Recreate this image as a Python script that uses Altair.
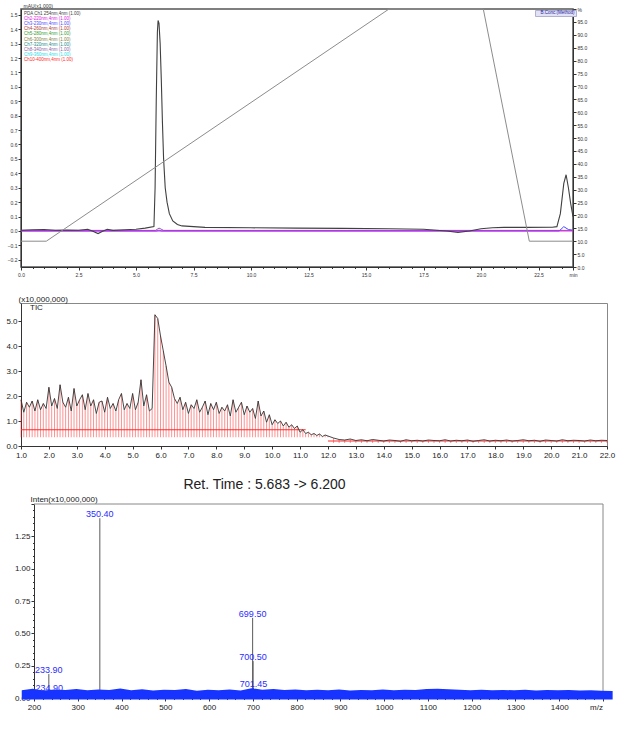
import altair as alt
import pandas as pd

FONT = "Liberation Sans"

# ---------------- Panel 1: PDA chromatogram (mAU x1,000) + gradient (%) ----------------
pda_time = [0.0, 0.5, 1.0, 1.5, 2.0, 2.5, 2.9, 3.1, 3.35, 3.55, 3.75, 4.0, 4.5, 5.0, 5.4,
            5.78, 5.83, 5.88, 5.93, 5.96, 6.0, 6.05, 6.1, 6.15, 6.2, 6.27, 6.35, 6.45, 6.6,
            6.8, 7.0, 8.0, 10.0, 12.0, 14.0, 16.0, 17.5, 18.5, 19.0, 19.5, 20.0, 20.5, 21.0,
            22.0, 23.1, 23.3, 23.45, 23.6, 23.7, 23.8, 23.9, 24.0]
pda_main = [0.005, 0.008, 0.01, 0.005, 0.006, 0.005, 0.012, 0.0, -0.018, -0.002, 0.012,
            0.004, 0.008, 0.012, 0.02, 0.03, 0.3, 0.9, 1.38, 1.46, 1.44, 1.3, 1.05, 0.75,
            0.5, 0.3, 0.2, 0.12, 0.07, 0.045, 0.035, 0.025, 0.022, 0.02, 0.018, 0.015,
            0.012, 0.0, -0.01, 0.0, 0.015, 0.022, 0.025, 0.025, 0.026, 0.03, 0.12, 0.33,
            0.39, 0.3, 0.19, 0.1]
ch2_time = [0.0, 5.9, 6.0, 6.1, 24.0]
ch2_val = [0.0, 0.0, 0.006, 0.0, 0.0]
ch3_time = [0.0, 23.4, 23.6, 23.8, 24.0]
ch3_val = [0.0, 0.0, 0.03, 0.01, 0.005]
ch8_time = [0.0, 5.85, 6.0, 6.2, 24.0]
ch8_val = [0.004, 0.004, 0.02, 0.004, 0.004]

grad_time = [0.0, 1.1, 16.0, 20.1, 22.1, 24.0]
grad_conc = [10, 10, 100, 100, 10, 10]

ch_names = ["PDA Ch1 254nm,4nm (1.00)", "Ch2-220nm,4nm (1.00)", "Ch3-230nm,4nm (1.00)",
            "Ch4-260nm,4nm (1.00)", "Ch5-280nm,4nm (1.00)", "Ch6-300nm,4nm (1.00)",
            "Ch7-320nm,4nm (1.00)", "Ch8-340nm,4nm (1.00)", "Ch9-360nm,4nm (1.00)",
            "Ch10-400nm,4nm (1.00)"]
ch_colors = ["#404040", "#e020e0", "#4848ff", "#a83a3a", "#2e9e2e", "#808040",
             "#208888", "#8a64a8", "#20e0e8", "#ff2a2a"]

x1_ticks = [round(i * 0.5, 1) for i in range(48)] + [24.0]
y1_ticks = [-0.2, -0.1, 0.0, 0.1, 0.2, 0.3, 0.4, 0.5, 0.6, 0.7, 0.8, 0.9, 1.0, 1.1,
            1.2, 1.3, 1.4, 1.5]
y1r_ticks = [0, 5, 10, 15, 20, 25, 30, 35, 40, 45, 50, 55, 60, 65, 70, 75, 80, 85, 90, 95, 100]

# ---------------- Panel 2: TIC ----------------
tic_val_a = [1.85, 1.35, 1.75, 1.55, 1.80, 1.40, 1.85, 1.45, 1.70, 1.50,
             2.35, 1.60, 1.90, 1.50, 2.45, 1.75, 1.55, 1.95, 1.40, 2.30,
             1.60, 1.85, 2.05, 1.45, 2.10, 1.60, 1.85, 1.30, 1.75, 1.80,
             1.35, 1.95, 1.50, 1.70, 1.40, 1.85, 2.10, 1.45, 1.70, 1.50,
             2.10, 1.45, 1.75, 2.65, 1.60, 2.05, 1.40, 1.50, 5.25, 5.10,
             4.40, 3.80, 3.20, 2.55, 2.35, 1.90, 1.70, 1.95, 1.45, 1.75,
             1.30, 1.65, 1.50, 1.85, 1.35, 1.55, 1.80, 1.25, 1.70, 1.45,
             1.75, 1.30, 1.55, 1.40, 1.65, 1.20, 1.85, 1.35, 1.55, 1.75,
             1.25, 1.60, 1.35, 1.50, 1.10, 1.80, 1.20, 1.40, 0.95, 1.25,
             0.85, 1.05, 0.90, 1.00, 0.80, 0.95, 0.75, 0.85, 0.70, 0.80,
             0.55, 0.65, 0.50, 0.55, 0.45, 0.50, 0.42, 0.48, 0.38, 0.44,
             0.40]
tic_val_b = [0.32, 0.26, 0.24, 0.28, 0.22, 0.25, 0.21, 0.26, 0.23, 0.20,
             0.24, 0.22, 0.19, 0.25, 0.21, 0.23, 0.20, 0.24, 0.22, 0.21,
             0.25, 0.20, 0.23, 0.21, 0.24, 0.19, 0.22, 0.25, 0.20, 0.23,
             0.21, 0.24, 0.20, 0.22, 0.25, 0.21, 0.23, 0.19, 0.24, 0.22,
             0.20, 0.25, 0.21, 0.23, 0.22, 0.20, 0.24, 0.21, 0.23, 0.22]
tic_time = [round(1.0 + 0.1 * i, 1) for i in range(len(tic_val_a))] + \
           [round(12.2 + 0.2 * i, 1) for i in range(len(tic_val_b))]
tic_val = tic_val_a + tic_val_b
stick_base = [0.35 if t <= 12.0 else 0.12 for t in tic_time]
hline_start = [1.0, 12.0]
hline_end = [11.2, 22.0]
hline_level = [0.65, 0.2]
x2_ticks = [float(v) for v in range(1, 23)]
y2_ticks = [0.0, 1.0, 2.0, 3.0, 4.0, 5.0]

# ---------------- Panel 3: mass spectrum ----------------
peak_mz = [233.90, 234.90, 350.40, 699.50, 700.50, 701.45]
peak_int = [0.185, 0.05, 1.39, 0.62, 0.285, 0.08]
band_top = [0.060, 0.072, 0.058, 0.066, 0.061, 0.070, 0.059, 0.065, 0.062, 0.074,
            0.060, 0.067, 0.058, 0.064, 0.061, 0.069, 0.057, 0.063, 0.060, 0.066,
            0.058, 0.075, 0.064, 0.070, 0.061, 0.066, 0.059, 0.063, 0.060, 0.065,
            0.058, 0.062, 0.060, 0.066, 0.059, 0.063, 0.061, 0.070, 0.072, 0.068,
            0.064, 0.060, 0.063, 0.059, 0.062, 0.060, 0.064, 0.058, 0.061, 0.059,
            0.062, 0.058, 0.060, 0.057, 0.055]
band_mz = [172 + 25 * i for i in range(len(band_top))]
x3_ticks = [200 + 20 * i for i in range(66)]
y3_ticks = [round(0.05 * i, 2) for i in range(31)]
frame_x = [200, 1500]
frame_x2 = [1500, 1500]
frame_y = [1.5, 0.0]
frame_y2 = [1.5, 1.5]

# ================= build panel 1 =================
df_main = pd.DataFrame({"t": pda_time, "v": pda_main})
df_ch2 = pd.DataFrame({"t": ch2_time, "v": ch2_val})
df_ch3 = pd.DataFrame({"t": ch3_time, "v": ch3_val})
df_ch8 = pd.DataFrame({"t": ch8_time, "v": ch8_val})
df_grad = pd.DataFrame({"t": grad_time, "c": grad_conc, "g": ["B.Conc.(Method)"] * len(grad_time)})
df_leg = pd.DataFrame({"name": ch_names})

x1_scale = alt.Scale(domain=[0, 24], nice=False, zero=False)
ax1x = alt.Axis(values=x1_ticks, title=None, grid=False, labelOverlap=False, labelFlush=False,
                labelExpr="datum.value == 24 ? 'min' : (datum.value % 2.5 == 0 ? format(datum.value, '.1f') : '')",
                tickSize={"condition": {"test": "datum.value % 2.5 == 0 || datum.value == 24", "value": 3}, "value": 1.5},
                labelFontSize=5, labelPadding=2, labelColor="#333")
y1_scale = alt.Scale(domain=[-0.25, 1.54], nice=False, zero=False)
ax1y = alt.Axis(values=y1_ticks, format=".1f", labelFontSize=5, tickSize=3, grid=False,
                labelOverlap=False, labelColor="#333", labelPadding=1,
                title="mAU(x1,000)", titleAngle=0, titleAlign="left", titleBaseline="bottom",
                titleX=2, titleY=-1, titleFontSize=5, titleFontWeight="normal", titleColor="#333",
                minExtent=20, maxExtent=20)


def trace(df, color, width=1.0):
    return alt.Chart(df).mark_line(color=color, strokeWidth=width).encode(
        x=alt.X("t:Q", scale=x1_scale, axis=ax1x),
        y=alt.Y("v:Q", scale=y1_scale, axis=ax1y),
    )


inner1 = alt.layer(
    trace(df_ch8, ch_colors[7]),
    trace(df_ch3, ch_colors[2]),
    trace(df_ch2, ch_colors[1]),
    trace(df_main, ch_colors[0], 1.1),
)

grad = alt.Chart(df_grad).mark_line(strokeWidth=1).encode(
    x=alt.X("t:Q", scale=x1_scale, axis=ax1x),
    y=alt.Y("c:Q", scale=alt.Scale(domain=[0, 100], nice=False, zero=False),
            axis=alt.Axis(orient="right", values=y1r_ticks, title=None, grid=False,
                          labelExpr="datum.value == 100 ? '%' : format(datum.value, '.1f')",
                          labelFontSize=5, tickSize=3, labelPadding=1, labelColor="#333",
                          labelOverlap=False)),
    color=alt.Color("g:N", scale=alt.Scale(domain=["B.Conc.(Method)"], range=["#8c8c8c"]),
                    legend=alt.Legend(orient="none", legendX=514, legendY=1, title=None,
                                      labelFontSize=4.5, labelColor="#2424a0", fillColor="#e2e2f6",
                                      strokeColor="#b0b0d0", symbolOpacity=0, symbolSize=0,
                                      labelOffset=0, padding=1)),
)

leg_text = alt.Chart(df_leg).mark_text(align="left", baseline="middle", fontSize=4.5, font=FONT).encode(
    x=alt.value(3),
    y=alt.Y("name:N", scale=alt.Scale(domain=ch_names, range=[5, 51], padding=0), axis=None),
    text="name:N",
    color=alt.Color("name:N", scale=alt.Scale(domain=ch_names, range=ch_colors), legend=None),
)

p1 = alt.layer(inner1, grad, leg_text).resolve_scale(y="independent", color="independent").properties(
    width=552, height=258, view=alt.ViewBackground(stroke="#555", strokeWidth=1.5))

# ================= build panel 2 =================
df_tic = pd.DataFrame({"t": tic_time, "v": tic_val, "lo": stick_base, "n": ["TIC"] * len(tic_time)})
df_hl = pd.DataFrame({"a": hline_start, "b": hline_end, "lvl": hline_level})
x2_scale = alt.Scale(domain=[1, 22], nice=False, zero=False)
y2_scale = alt.Scale(domain=[0, 5.72], nice=False, zero=False)
ax2x = alt.Axis(values=x2_ticks, format=".1f", grid=False, labelFontSize=8, tickSize=3,
                labelOverlap=False, labelFlush=False, labelColor="#222",
                title="Ret. Time : 5.683 -> 6.200", titleFont=FONT, titleFontSize=14,
                titleFontWeight="normal", titleColor="#222", titleX=243, titleY=42,
                titleBaseline="alphabetic", titleAlign="center")
ax2y = alt.Axis(values=y2_ticks, format=".1f", grid=False, labelFontSize=8, tickSize=3,
                labelColor="#222", labelPadding=1,
                title="(x10,000,000)", titleAngle=0, titleAlign="left", titleBaseline="bottom",
                titleX=-3, titleY=0, titleFontSize=8, titleFontWeight="normal", titleColor="#222",
                minExtent=20, maxExtent=20)

sticks2 = alt.Chart(df_tic).mark_rule(color="#ff2a2a", strokeWidth=0.8, opacity=0.65).encode(
    x=alt.X("t:Q", scale=x2_scale, axis=ax2x),
    y=alt.Y("lo:Q", scale=y2_scale, axis=ax2y),
    y2="v:Q",
)
hl2 = alt.Chart(df_hl).mark_rule(color="#ff2a2a", strokeWidth=1).encode(
    x=alt.X("a:Q", scale=x2_scale, axis=ax2x),
    x2="b:Q",
    y=alt.Y("lvl:Q", scale=y2_scale, axis=ax2y),
)
line2 = alt.Chart(df_tic).mark_line(strokeWidth=0.9).encode(
    x=alt.X("t:Q", scale=x2_scale, axis=ax2x),
    y=alt.Y("v:Q", scale=y2_scale, axis=ax2y),
    color=alt.Color("n:N", scale=alt.Scale(domain=["TIC"], range=["#333333"]),
                    legend=alt.Legend(orient="none", legendX=0, legendY=0, title=None,
                                      labelFontSize=8, labelColor="#222", symbolOpacity=0,
                                      symbolSize=0, labelOffset=0, padding=1)),
)
p2 = alt.layer(sticks2, hl2, line2).properties(
    width=586, height=143, view=alt.ViewBackground(stroke="#888", strokeWidth=1))

# ================= build panel 3 =================
df_pk = pd.DataFrame({"mz": peak_mz, "h": peak_int, "z": [0.0] * len(peak_mz)})
df_band = pd.DataFrame({"mz": band_mz, "top": band_top, "bot": [-0.012] * len(band_mz)})
df_frame = pd.DataFrame({"x": frame_x, "x2": frame_x2, "y": frame_y, "y2": frame_y2})
x3_scale = alt.Scale(domain=[170.3, 1500], nice=False, zero=False)
y3_scale = alt.Scale(domain=[0, 1.5], nice=False, zero=False)
ax3x = alt.Axis(values=x3_ticks, grid=False, labelFontSize=8, labelOverlap=False, labelFlush=False,
                labelExpr="datum.value % 100 == 0 && datum.value <= 1400 ? format(datum.value, 'd') : ''",
                tickSize={"condition": {"test": "datum.value % 100 == 0", "value": 3}, "value": 1.5},
                labelColor="#222", domain=False,
                title="m/z", titleFontSize=8, titleFontWeight="normal", titleColor="#222",
                titleX=575, titleY=5, titleBaseline="top", titleAlign="center")
ax3y = alt.Axis(values=y3_ticks, grid=False, labelFontSize=8, labelOverlap=False, labelColor="#222",
                labelExpr="round(datum.value * 100) % 25 == 0 && datum.value <= 1.25 ? format(datum.value, '.2f') : ''",
                tickSize={"condition": {"test": "round(datum.value * 100) % 25 == 0", "value": 3}, "value": 1.5},
                labelPadding=1, offset=-13,
                title="Inten(x10,000,000)", titleAngle=0, titleAlign="left", titleBaseline="bottom",
                titleX=-4, titleY=-1, titleFontSize=8, titleFontWeight="normal", titleColor="#222",
                minExtent=20, maxExtent=20)

frame3 = alt.Chart(df_frame).mark_rule(color="#888", strokeWidth=1).encode(
    x=alt.X("x:Q", scale=x3_scale, axis=ax3x),
    x2="x2:Q",
    y=alt.Y("y:Q", scale=y3_scale, axis=ax3y),
    y2="y2:Q",
)
baseline3 = alt.Chart(df_frame).mark_rule(color="#333", strokeWidth=1).encode(
    x=alt.X("x:Q", aggregate="min", scale=x3_scale, axis=ax3x),
    x2=alt.X2("x2:Q", aggregate="max"),
    y=alt.Y("y:Q", aggregate="min", scale=y3_scale, axis=ax3y),
)
sticks3 = alt.Chart(df_pk).mark_rule(color="#5a5a5a", strokeWidth=1).encode(
    x=alt.X("mz:Q", scale=x3_scale, axis=ax3x),
    y=alt.Y("h:Q", scale=y3_scale, axis=ax3y),
    y2="z:Q",
)
labels3 = alt.Chart(df_pk).mark_text(color="#2b2bff", fontSize=9, baseline="bottom", dy=1, font=FONT).encode(
    x=alt.X("mz:Q", scale=x3_scale, axis=ax3x),
    y=alt.Y("h:Q", scale=y3_scale, axis=ax3y),
    text=alt.Text("mz:Q", format=".2f"),
)
band3 = alt.Chart(df_band).mark_area(color="#1733ff", opacity=1).encode(
    x=alt.X("mz:Q", scale=x3_scale, axis=ax3x),
    y=alt.Y("top:Q", scale=y3_scale, axis=ax3y),
    y2="bot:Q",
)
p3 = alt.layer(frame3, baseline3, sticks3, labels3, band3).properties(
    width=582, height=194, view=alt.ViewBackground(stroke=None))

top2 = alt.vconcat(p1, p2, spacing=16).resolve_scale(color="independent")
chart = alt.vconcat(top2, p3, spacing=3).resolve_scale(color="independent").properties(
    padding={"left": 0, "top": 2, "right": 0, "bottom": 0},
).configure(font=FONT).configure_axis(
    domainColor="#333", tickColor="#333", labelFont=FONT, titleFont=FONT,
).configure_view(stroke="#888")

chart.save("out.html", embed_options={"renderer": "svg", "actions": False})
